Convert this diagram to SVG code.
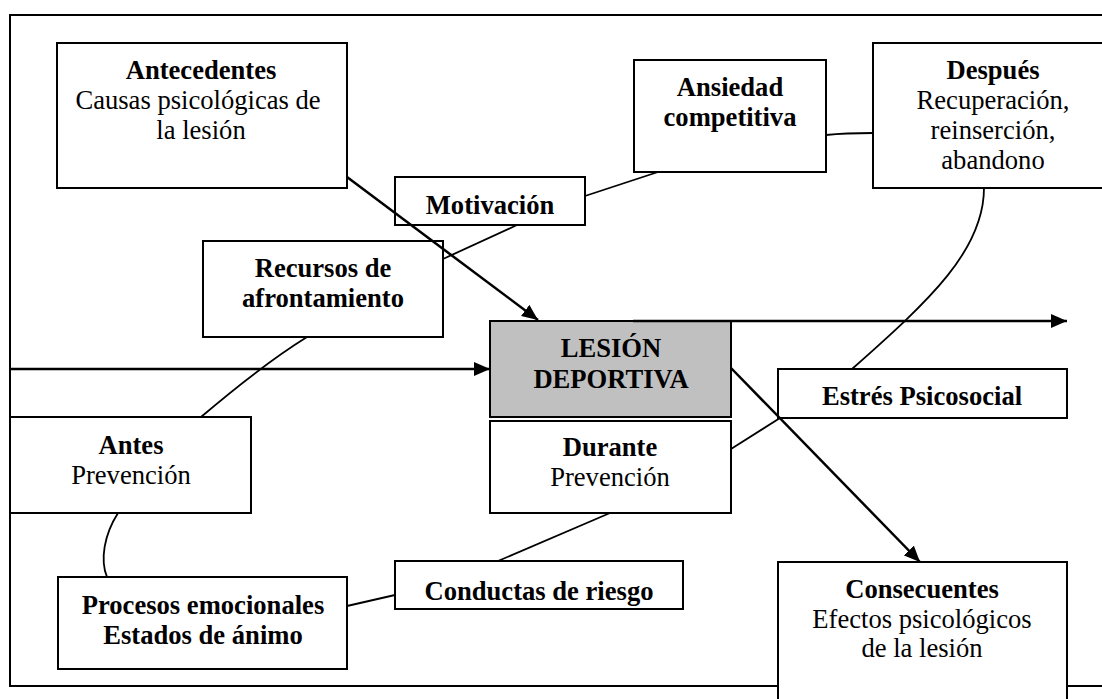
<svg xmlns="http://www.w3.org/2000/svg" width="1102" height="699" viewBox="0 0 1102 699">
<defs>
<marker id="ah" markerUnits="userSpaceOnUse" markerWidth="17" markerHeight="14" refX="16" refY="7" orient="auto">
<path d="M0,0 L16,7 L0,14 z" fill="#000"/>
</marker>
<style>
.box{fill:#fff;stroke:#000;stroke-width:2}
.gray{fill:#c0c0c0;stroke:#000;stroke-width:2}
text{font-family:"Liberation Serif","Times New Roman",serif;font-size:26.6px;fill:#000;text-anchor:middle}
.b{font-weight:bold}
.arrow{fill:none;stroke:#000;stroke-width:2.5;marker-end:url(#ah)}
.line{fill:none;stroke:#000;stroke-width:1.8}
</style>
</defs>
<rect width="1102" height="699" fill="#fff"/>
<rect id="frame" x="10" y="15" width="1120" height="671" fill="none" stroke="#000" stroke-width="2"/>
<g id="antecedentes"><rect class="box" x="57" y="43" width="290" height="145"/>
<text x="201" y="79" class="b">Antecedentes</text><text x="198" y="109">Causas psicológicas de</text><text x="201" y="139">la lesión</text></g>
<g id="motivacion"><rect class="box" x="395" y="177" width="190" height="48"/>
<text x="490" y="214" class="b">Motivación</text></g>
<g id="ansiedad"><rect class="box" x="634" y="60" width="192" height="112"/>
<text x="730" y="96" class="b">Ansiedad</text><text x="730" y="126" class="b">competitiva</text></g>
<g id="despues"><rect class="box" x="873" y="43" width="250" height="145"/>
<text x="993" y="79" class="b">Después</text><text x="993" y="109">Recuperación,</text><text x="993" y="139">reinserción,</text><text x="993" y="169">abandono</text></g>
<g id="recursos"><rect class="box" x="203" y="241" width="240" height="96"/>
<text x="323" y="277" class="b">Recursos de</text><text x="323" y="307" class="b">afrontamiento</text></g>
<g id="lesion"><rect class="gray" x="490" y="321" width="241" height="96"/>
<text x="611" y="357" class="b">LESIÓN</text><text x="611" y="388" class="b">DEPORTIVA</text></g>
<g id="estres"><rect class="box" x="778" y="369" width="289" height="49"/>
<text x="922" y="405" class="b">Estrés Psicosocial</text></g>
<g id="antes"><rect class="box" x="10" y="417" width="241" height="96"/>
<text x="131" y="454" class="b">Antes</text><text x="131" y="484">Prevención</text></g>
<g id="durante"><rect class="box" x="490" y="421" width="241" height="92"/>
<text x="610" y="456" class="b">Durante</text><text x="610" y="486">Prevención</text></g>
<g id="procesos"><rect class="box" x="58" y="577" width="289" height="92"/>
<text x="203" y="614" class="b">Procesos emocionales</text><text x="203" y="644" class="b">Estados de ánimo</text></g>
<g id="conductas"><rect class="box" x="395" y="561" width="288" height="48"/>
<text x="539" y="600" class="b">Conductas de riesgo</text></g>
<g id="consecuentes"><rect class="box" x="778" y="562" width="289" height="160"/>
<text x="922" y="598" class="b">Consecuentes</text><text x="922" y="628">Efectos psicológicos</text><text x="922" y="657">de la lesión</text></g>
<g id="connectors">
<path class="arrow" d="M347,177 L538,320"/>
<path class="arrow" d="M10,369 L490,369"/>
<path class="arrow" d="M633,321 L1067,321"/>
<path class="arrow" d="M731,368 L920,562"/>
<path class="line" d="M585,196 L658,172"/>
<path class="line" d="M826,135 C845,133 855,133 873,133"/>
<path class="line" d="M517,225 L443,259"/>
<path class="line" d="M307,337 Q262,365 201,417"/>
<path class="line" d="M118,513 C104,535 100,560 107,577"/>
<path class="line" d="M347,606 L395,595"/>
<path class="line" d="M498,561 L610,513"/>
<path class="line" d="M731,449 L780,418"/>
<path class="line" d="M984,188 C984,250 930,300 852,369"/>
</g>
</svg>
